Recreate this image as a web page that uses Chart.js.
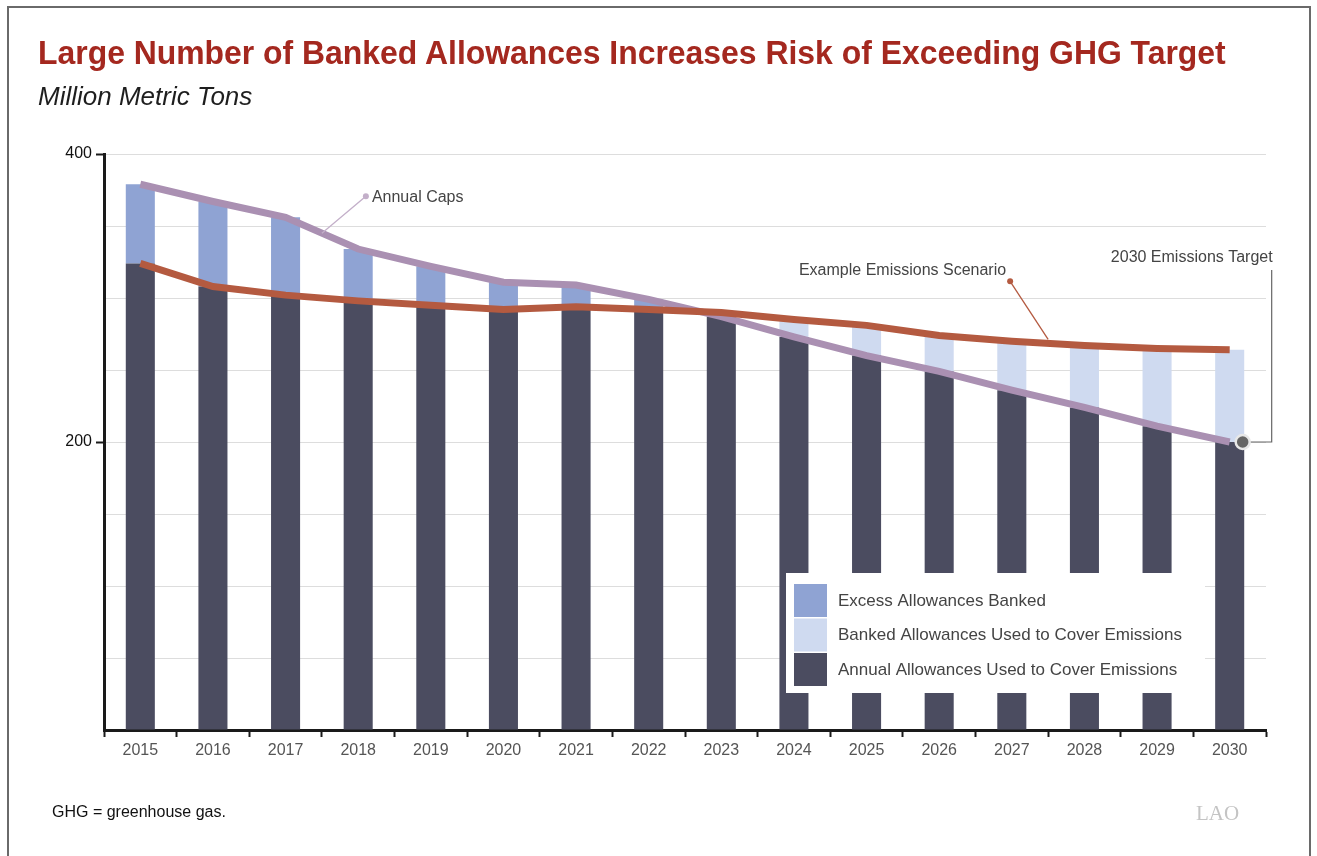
<!DOCTYPE html>
<html>
<head>
<meta charset="utf-8">
<script src="https://cdn.jsdelivr.net/npm/chart.js@4"></script>
<style>
  html, body { margin: 0; padding: 0; background: #fff; }
  #page { position: relative; width: 1317px; height: 856px; overflow: hidden; font-family: "Liberation Sans", Arial, sans-serif; }
  #frame { position: absolute; left: 7px; top: 6px; width: 1304px; height: 900px; border: 2px solid #6a6a6a; box-sizing: border-box; }
  #title { position: absolute; left: 38px; top: 34px; font-family: "Liberation Sans", Arial, sans-serif; font-weight: bold; font-size: 33px; color: #a4281f; white-space: nowrap; transform-origin: 0 0; }
  #subtitle { position: absolute; left: 38px; top: 81px; font-family: "Liberation Sans", Arial, sans-serif; font-style: italic; font-size: 26px; color: #1e1e1e; white-space: nowrap; }
  #note { position: absolute; left: 52px; top: 803px; font-size: 16px; color: #111; }
  #logo { position: absolute; left: 1196px; top: 801px; font-family: "Liberation Serif", "DejaVu Serif", serif; font-size: 21px; color: #c4c4c4; }
  #wrap { position: absolute; left: 0; top: 0; width: 1317px; height: 856px; }
</style>
</head>
<body>
<div id="page">
  <div id="frame"></div>
  <div id="wrap"><canvas id="chart"></canvas></div>
  <div id="title">Large Number of Banked Allowances Increases Risk of Exceeding GHG Target</div>
  <div id="subtitle">Million Metric Tons</div>
  <div id="note">GHG = greenhouse gas.</div>
  <div id="logo">LAO</div>
</div>
<script>
// chart values
const years = ['2015','2016','2017','2018','2019','2020','2021','2022','2023','2024','2025','2026','2027','2028','2029','2030'];
const annualCaps = [379, 367, 356, 334, 322, 311, 309, 299, 287, 273, 260, 249, 236, 224, 211, 200];
const emissions = [324, 308, 302, 298, 295, 292, 294, 292, 290, 285, 281, 274, 270, 267, 265, 264];
const annualUsed = [324, 308, 302, 298, 295, 292, 294, 292, 287, 273, 260, 249, 236, 224, 211, 200];
const excessBanked = [55, 59, 54, 36, 27, 19, 15, 7, 0, 0, 0, 0, 0, 0, 0, 0];
const bankedUsed = [0, 0, 0, 0, 0, 0, 0, 0, 3, 12, 21, 25, 34, 43, 54, 64];
const yLabels = [200, 400];

const DARK = '#4b4c60', BLUE = '#8fa3d3', LIGHT = '#cfdaf0';
const CAP = '#aa90b2', EMIT = '#b45a40';

const legendItems = [
    { text: 'Excess Allowances Banked', color: BLUE },
    { text: 'Banked Allowances Used to Cover Emissions', color: LIGHT },
    { text: 'Annual Allowances Used to Cover Emissions', color: DARK }
];

// squeeze the title to the width it has in the original
const titleEl = document.getElementById('title');
titleEl.style.transform = 'scaleX(' + (1188 / titleEl.offsetWidth) + ')';

// labels, leader lines and the legend box
const annotate = {
    id: 'annotate',
    afterDatasetsDraw(chart) {
        const { ctx, chartArea: ca } = chart;
        const x = chart.scales.x, y = chart.scales.y;
        ctx.save();
        ctx.font = '16px "Liberation Sans", Arial, sans-serif';
        ctx.textBaseline = 'middle';

        // Annual Caps
        let ex = (x.getPixelForValue(2) + x.getPixelForValue(3)) / 2;
        let ey = (y.getPixelForValue(annualCaps[2]) + y.getPixelForValue(annualCaps[3])) / 2;
        let dx = ex + 44, dy = ey - 37;
        ctx.strokeStyle = '#c3afc9'; ctx.fillStyle = '#c3afc9'; ctx.lineWidth = 1.3;
        ctx.beginPath(); ctx.moveTo(ex, ey); ctx.lineTo(dx, dy); ctx.stroke();
        ctx.beginPath(); ctx.arc(dx, dy, 3, 0, Math.PI * 2); ctx.fill();
        ctx.fillStyle = '#444'; ctx.textAlign = 'left';
        ctx.fillText('Annual Caps', dx + 6, dy + 1);

        // Example Emissions Scenario
        ex = (x.getPixelForValue(12) + x.getPixelForValue(13)) / 2;
        ey = (y.getPixelForValue(emissions[12]) + y.getPixelForValue(emissions[13])) / 2 - 4;
        dx = ex - 38; dy = ey - 58;
        ctx.strokeStyle = EMIT; ctx.fillStyle = EMIT; ctx.lineWidth = 1.3;
        ctx.beginPath(); ctx.moveTo(ex, ey); ctx.lineTo(dx, dy); ctx.stroke();
        ctx.beginPath(); ctx.arc(dx, dy, 3, 0, Math.PI * 2); ctx.fill();
        ctx.fillStyle = '#444'; ctx.textAlign = 'right';
        ctx.fillText('Example Emissions Scenario', dx - 4, dy - 11);

        // 2030 target marker
        const last = years.length - 1;
        const tx = x.getPixelForValue(last) + 13, ty = y.getPixelForValue(annualCaps[last]);
        const lx = tx + 29;
        ctx.strokeStyle = '#666'; ctx.lineWidth = 1.2;
        ctx.beginPath(); ctx.moveTo(tx, ty); ctx.lineTo(lx, ty); ctx.lineTo(lx, ty - 172); ctx.stroke();
        ctx.beginPath(); ctx.arc(tx, ty, 7, 0, Math.PI * 2);
        ctx.fillStyle = '#666'; ctx.fill();
        ctx.strokeStyle = '#e8e8e8'; ctx.lineWidth = 2.5; ctx.stroke();
        ctx.fillStyle = '#444'; ctx.textAlign = 'right';
        ctx.fillText('2030 Emissions Target', lx + 1, ty - 184);

        // legend box
        const bx = ca.right - 480, by = ca.bottom - 157, bw = 419, bh = 120;
        ctx.fillStyle = '#fff';
        ctx.fillRect(bx, by, bw, bh);
        ctx.font = '17px "Liberation Sans", Arial, sans-serif';
        ctx.textAlign = 'left';
        legendItems.forEach((it, i) => {
            const sy = by + 11 + i * 34.5;
            ctx.fillStyle = it.color;
            ctx.fillRect(bx + 8, sy, 33, 33);
            ctx.fillStyle = '#444';
            ctx.fillText(it.text, bx + 52, sy + 17);
        });
        ctx.restore();
    }
};

const cfg = {
    data: {
        labels: years,
        datasets: [
            { type: 'line', label: 'Example Emissions Scenario', data: emissions, borderColor: EMIT, borderWidth: 7, pointRadius: 0, tension: 0, stack: 'emit', order: 0 },
            { type: 'line', label: 'Annual Caps', data: annualCaps, borderColor: CAP, borderWidth: 7, pointRadius: 0, tension: 0, stack: 'cap', order: 1 },
            { type: 'bar', label: 'Annual Allowances Used to Cover Emissions', data: annualUsed, backgroundColor: DARK, stack: 'bars', order: 2 },
            { type: 'bar', label: 'Excess Allowances Banked', data: excessBanked, backgroundColor: BLUE, stack: 'bars', order: 2 },
            { type: 'bar', label: 'Banked Allowances Used to Cover Emissions', data: bankedUsed, backgroundColor: LIGHT, stack: 'bars', order: 2 }
        ]
    },
    options: {
        responsive: true,
        maintainAspectRatio: false,
        animation: false,
        events: [],
        datasets: { bar: { barPercentage: 0.8, categoryPercentage: 0.5 } },
        layout: { padding: { left: 0, top: 154, right: 51, bottom: 0 } },
        plugins: { legend: { display: false }, tooltip: { enabled: false } },
        scales: {
            x: {
                stacked: true,
                offset: true,
                afterFit: s => { s.height = 126; },
                border: { color: '#1a1a1a', width: 3 },
                grid: { offset: true, drawOnChartArea: false, tickLength: 7, tickWidth: 2, tickColor: '#1a1a1a' },
                ticks: { color: '#555', padding: 4, font: { size: 16, family: '"Liberation Sans", Arial, sans-serif' } }
            },
            y: {
                stacked: true,
                min: 0, max: 400,
                afterFit: s => { s.width = 104; },
                border: { color: '#1a1a1a', width: 3 },
                grid: {
                    color: '#dddddd', lineWidth: 1, tickLength: 8, tickWidth: 2,
                    tickColor: c => yLabels.includes(c.tick.value) ? '#1a1a1a' : 'rgba(0,0,0,0)'
                },
                ticks: {
                    stepSize: 50, color: '#111', padding: 4,
                    font: { size: 16, family: '"Liberation Sans", Arial, sans-serif' },
                    callback: v => yLabels.includes(v) ? v : ''
                }
            }
        }
    },
    plugins: [annotate]
};

new Chart(document.getElementById('chart'), cfg);
</script>
</body>
</html>
